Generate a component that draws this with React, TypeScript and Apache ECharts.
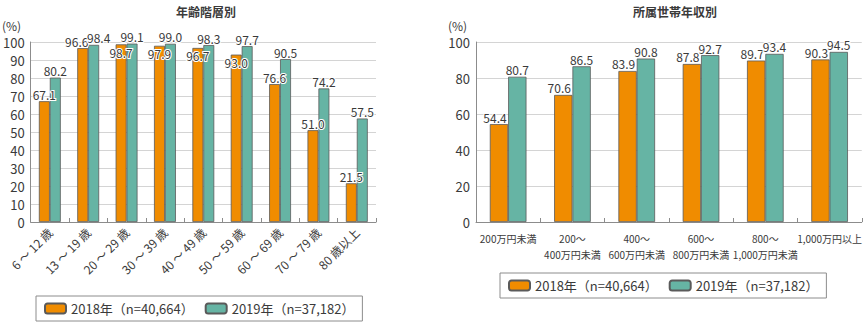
import React, { useEffect, useRef } from "react";
import * as echarts from "echarts";

const ageCategories = ["6 ～ 12 歳", "13 ～ 19 歳", "20 ～ 29 歳", "30 ～ 39 歳", "40 ～ 49 歳", "50 ～ 59 歳", "60 ～ 69 歳", "70 ～ 79 歳", "80 歳以上"];
const age2018 = [67.1, 96.6, 98.7, 97.9, 96.7, 93.0, 76.6, 51.0, 21.5];
const age2019 = [80.2, 98.4, 99.1, 99.0, 98.3, 97.7, 90.5, 74.2, 57.5];

const incomeCategories = ["200万円未満", "200～\n400万円未満", "400～\n600万円未満", "600～\n800万円未満", "800～\n1,000万円未満", "1,000万円以上"];
const income2018 = [54.4, 70.6, 83.9, 87.8, 89.7, 90.3];
const income2019 = [80.7, 86.5, 90.8, 92.7, 93.4, 94.5];

const seriesNames = ["2018年（n=40,664）", "2019年（n=37,182）"];
const titles = ["年齢階層別", "所属世帯年収別"];

const ORANGE = "#F08C00";
const TEAL = "#66B4A4";
const FONT = "'Noto Sans CJK JP', 'Noto Sans', sans-serif";
const TXT = "#3a3a3a";

export default function App() {
  const ref = useRef<HTMLDivElement>(null);
  useEffect(() => {
    document.body.style.margin = "0";
    const chart = echarts.init(ref.current!, null, { renderer: "svg" });
    const insideIdx = new Set([2, 3, 4, 5]);
    const labelBase = {
      show: true,
      position: "top",
      distance: 1,
      color: TXT,
      fontSize: 12,
      fontFamily: FONT,
      textBorderColor: "#fff",
      textBorderWidth: 2,
      formatter: (p: any) => Number(p.value).toFixed(1),
    };
    const itemStyle = (c: string) => ({ color: c, borderColor: "#5a5a5a", borderWidth: 0.8 });
    const axisCommon = {
      axisLine: { show: true, lineStyle: { color: "#8c8c8c" } },
      axisTick: { show: true, inside: true, length: 4, lineStyle: { color: "#8c8c8c" } },
    };
    const yCommon = (max: number, interval: number) => ({
      type: "value",
      min: 0,
      max,
      interval,
      axisLine: { show: true, lineStyle: { color: "#8c8c8c" } },
      axisTick: { show: false },
      splitLine: { lineStyle: { color: "#d4d4d4" } },
      axisLabel: { color: TXT, fontSize: 13, fontFamily: FONT, margin: 6 },
    });
    const legendCommon = {
      data: seriesNames,
      orient: "horizontal",
      itemWidth: 21,
      itemHeight: 10,
      itemGap: 11,
      borderColor: "#8c8c8c",
      borderWidth: 1,
      padding: [6, 8, 6, 8],
      textStyle: { color: TXT, fontSize: 13, fontFamily: FONT },
      selectedMode: false,
    };
    chart.setOption({
      animation: false,
      textStyle: { fontFamily: FONT },
      title: [
        { text: titles[0], left: 201, top: 0, textAlign: "center", textStyle: { fontSize: 12, fontWeight: "bold", color: TXT, fontFamily: FONT } },
        { text: titles[1], left: 670, top: 0, textAlign: "center", textStyle: { fontSize: 12, fontWeight: "bold", color: TXT, fontFamily: FONT } },
      ],
      graphic: [
        { type: "text", left: 2, top: 19, style: { text: "(%)", fontSize: 12, fill: TXT, fontFamily: FONT } },
        { type: "text", left: 448, top: 19, style: { text: "(%)", fontSize: 12, fill: TXT, fontFamily: FONT } },
      ],
      grid: [
        { left: 26, right: 489, top: 42, bottom: 101 },
        { left: 476, right: 2, top: 42, bottom: 101 },
      ],
      legend: [
        { ...legendCommon, left: 36, top: 296 },
        { ...legendCommon, left: 500, top: 273 },
      ],
      xAxis: [
        {
          type: "category",
          gridIndex: 0,
          data: ageCategories,
          ...axisCommon,
          axisLabel: { color: TXT, fontSize: 12, fontFamily: FONT, rotate: 45, margin: 8, interval: 0 },
        },
        {
          type: "category",
          gridIndex: 1,
          data: incomeCategories,
          ...axisCommon,
          axisLabel: { color: TXT, fontSize: 10, fontFamily: FONT, margin: 8, interval: 0, lineHeight: 16 },
        },
      ],
      yAxis: [
        { ...yCommon(100, 10), gridIndex: 0 },
        { ...yCommon(100, 20), gridIndex: 1 },
      ],
      series: [
        {
          name: seriesNames[0],
          type: "bar",
          xAxisIndex: 0,
          yAxisIndex: 0,
          barCategoryGap: "43%",
          barGap: "0%",
          itemStyle: itemStyle(ORANGE),
          label: labelBase,
          data: age2018.map((v, i) =>
            insideIdx.has(i)
              ? { value: v, label: { position: "insideTop", distance: 2 } }
              : i === 1
              ? { value: v, label: { offset: [-6, 0] } }
              : v
          ),
        },
        {
          name: seriesNames[1],
          type: "bar",
          xAxisIndex: 0,
          yAxisIndex: 0,
          barCategoryGap: "43%",
          barGap: "0%",
          itemStyle: itemStyle(TEAL),
          label: labelBase,
          data: age2019.map((v, i) => (i === 1 ? { value: v, label: { offset: [5, 0] } } : v)),
        },
        {
          name: seriesNames[0],
          type: "bar",
          xAxisIndex: 1,
          yAxisIndex: 1,
          barCategoryGap: "43%",
          barGap: "0%",
          itemStyle: itemStyle(ORANGE),
          label: { ...labelBase, offset: [-4, 0] },
          data: income2018,
        },
        {
          name: seriesNames[1],
          type: "bar",
          xAxisIndex: 1,
          yAxisIndex: 1,
          barCategoryGap: "43%",
          barGap: "0%",
          itemStyle: itemStyle(TEAL),
          label: labelBase,
          data: income2019,
        },
      ],
    });
    return () => chart.dispose();
  }, []);
  return <div ref={ref} style={{ width: 865, height: 323 }} />;
}
